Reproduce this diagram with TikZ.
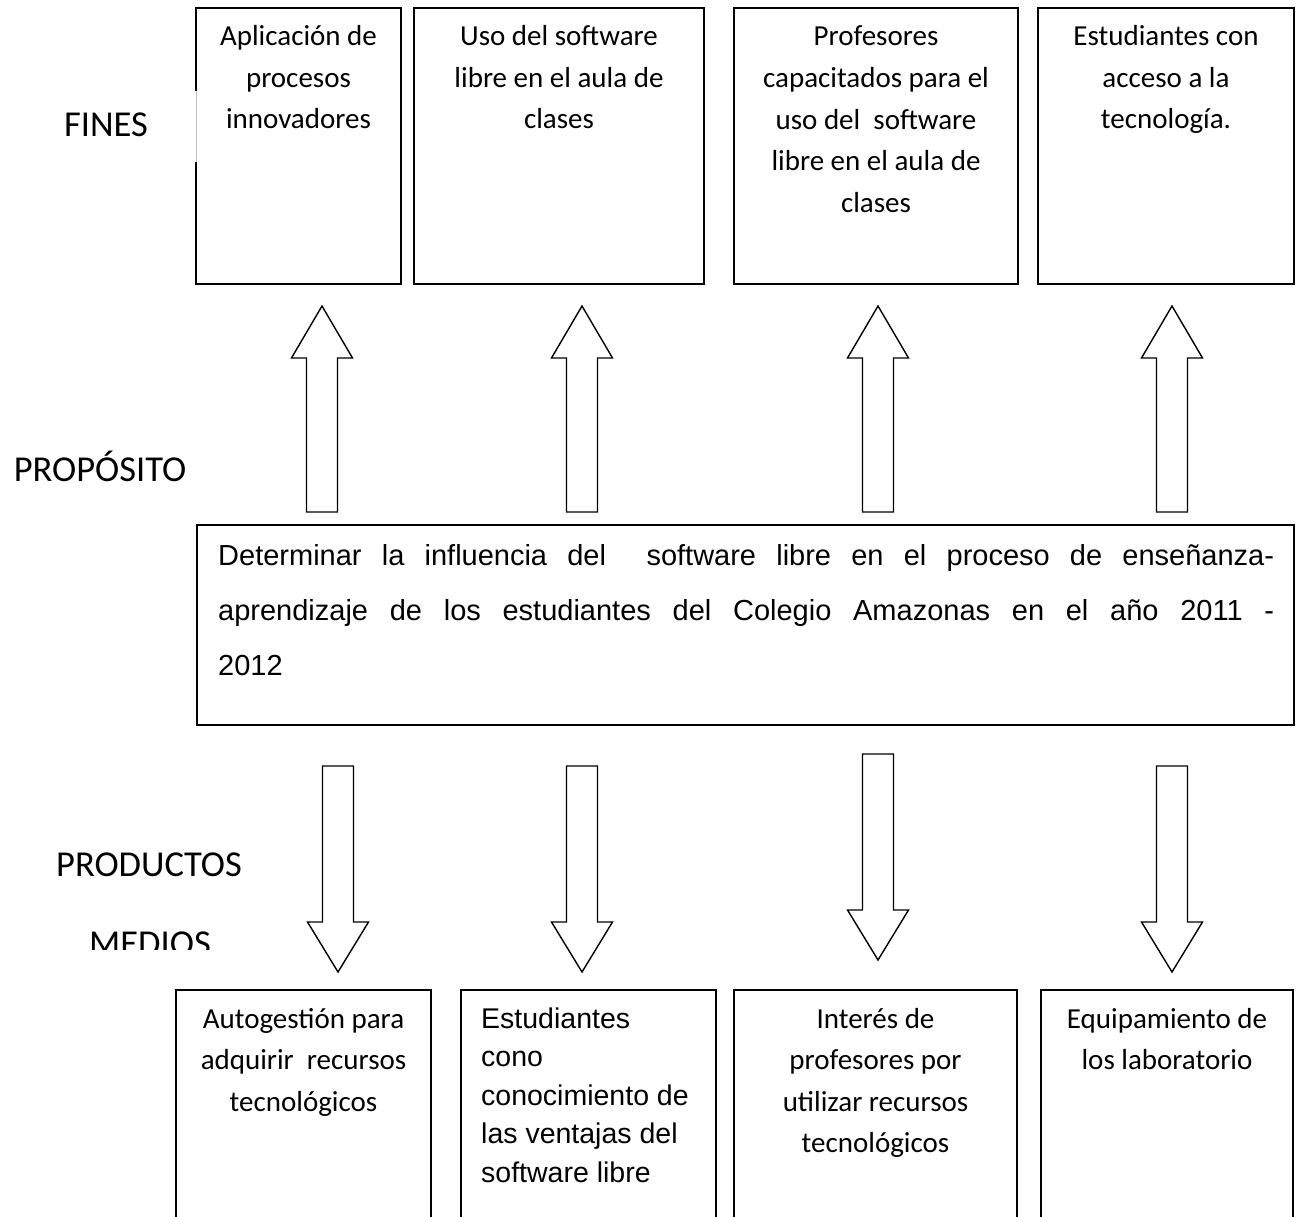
\documentclass[tikz,border=0pt]{standalone}
\usepackage{fontspec}
\setmainfont{Carlito}
\newfontfamily\arialf{Liberation Sans}
\newcommand\upblk[1]{%
  \draw[arr] (#1-15.5,512) -- (#1-15.5,358) -- (#1-30.5,358) -- (#1,306) --
    (#1+30.5,358) -- (#1+15.5,358) -- (#1+15.5,512) -- cycle;}
\newcommand\dnblk[2]{%
  \draw[arr] (#1-15.5,#2) -- (#1-15.5,#2+156) -- (#1-30.5,#2+156) -- (#1,#2+206) --
    (#1+30.5,#2+156) -- (#1+15.5,#2+156) -- (#1+15.5,#2) -- cycle;}
\begin{document}
\begin{tikzpicture}[x=1pt,y=-1pt,
  box/.style={draw=black, line width=1.8pt, inner sep=0pt, outer sep=0pt, anchor=north west},
  arr/.style={draw=black, line width=1.4pt, fill=white, line join=miter},
  ctext/.style={font=\fontsize{29}{41.5}\selectfont, align=center, inner sep=0pt, anchor=base},
  atext/.style={font=\arialf\fontsize{28.5}{38.5}\selectfont, align=left, inner sep=0pt, anchor=base west},
  lbl/.style={font=\fontsize{36.5}{44}\selectfont, inner sep=0pt, anchor=base}]
\useasboundingbox (0,0) rectangle (1303,1217);
\clip (0,0) rectangle (1303,1217);
\fill[white] (0,0) rectangle (1303,1217);

% side labels
\node[lbl] (fines) at (106,137) {FINES};
\node[lbl] (prop) at (100,481) {PROPÓSITO};
\node[lbl] (prod) at (149,876) {PRODUCTOS};
\begin{scope}
  \clip (0,900) rectangle (400,949);
  \node[lbl] (medios) at (150,955.5) {MEDIOS};
\end{scope}

% top boxes (fines)
\node[box, minimum width=205pt, minimum height=276pt] (f1) at (196,8) {};
\node[box, minimum width=290pt, minimum height=276pt] (f2) at (414,8) {};
\node[box, minimum width=284pt, minimum height=276pt] (f3) at (734,8) {};
\node[box, minimum width=256pt, minimum height=276pt] (f4) at (1038,8) {};
\fill[white] (193,91) rectangle (199.5,162);
\draw[black!25, line width=0.4pt] (196.5,91) -- (196.5,162);

% multi-line texts are placed by the baseline of their last line
\node[ctext] (tf1) at (298.5,129) {Aplicación de\\procesos\\innovadores};
\node[ctext] (tf2) at (559,129) {Uso del software\\libre en el aula de\\clases};
\node[ctext] (tf3) at (876,212) {Profesores\\capacitados para el\\uso del\ \ software\\libre en el aula de\\clases};
\node[ctext] (tf4) at (1166,129) {Estudiantes con\\acceso a la\\tecnología.};

% up arrows
\upblk{322}
\upblk{582}
\upblk{878}
\upblk{1172}

% purpose box
\node[box, minimum width=1097pt, minimum height=200pt] (p) at (197,525) {};
\node[font=\arialf\fontsize{29}{55}\selectfont, align=left, inner sep=0pt, anchor=base west] (tp) at (218,675)
  {\makebox[1056pt][s]{Determinar la influencia del\ \ software libre en el proceso de enseñanza-}\\
   \makebox[1056pt][s]{aprendizaje de los estudiantes del Colegio Amazonas en el año 2011 -}\\
   2012};

% down arrows
\dnblk{338}{766}
\dnblk{582}{766}
\dnblk{878}{754}
\dnblk{1172}{766}

% bottom boxes (medios)
\node[box, minimum width=255pt, minimum height=260pt] (m1) at (176,990) {};
\node[box, minimum width=255pt, minimum height=260pt] (m2) at (461,990) {};
\node[box, minimum width=283pt, minimum height=260pt] (m3) at (734,990) {};
\node[box, minimum width=252pt, minimum height=260pt] (m4) at (1041,990) {};

\node[ctext] (tm1) at (303.5,1111) {Autogestión para\\adquirir\ \ recursos\\tecnológicos};
\node[atext] (tm2) at (481,1182) {Estudiantes\\cono\\conocimiento de\\las ventajas del\\software libre};
\node[ctext] (tm3) at (875.5,1152.5) {Interés de\\profesores por\\utilizar recursos\\tecnológicos};
\node[ctext] (tm4) at (1167,1069.5) {Equipamiento de\\los laboratorio};
\end{tikzpicture}
\end{document}
